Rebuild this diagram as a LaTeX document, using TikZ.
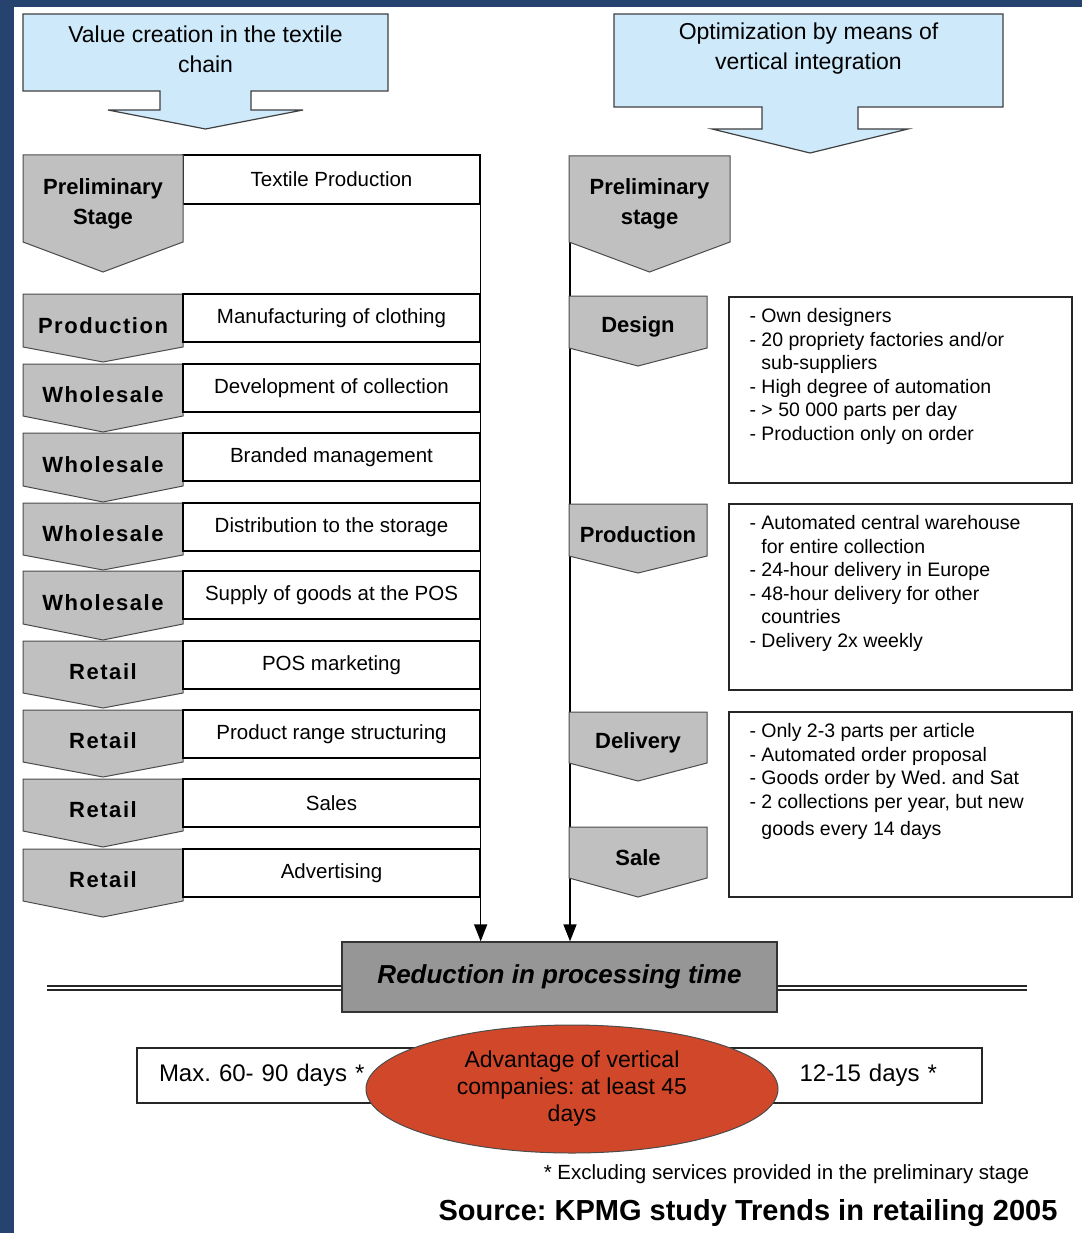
\documentclass[tikz,border=0pt]{standalone}
\usepackage{fontspec}
\setmainfont{Liberation Sans}
\newfontfamily\spacedsans{Liberation Sans}[LetterSpace=7]
\usetikzlibrary{arrows.meta,shapes.geometric,backgrounds}
\frenchspacing

\definecolor{denim}{RGB}{38,67,112}
\definecolor{headblue}{RGB}{205,233,250}
\definecolor{stagegray}{RGB}{192,192,192}
\definecolor{timegray}{RGB}{150,150,150}
\definecolor{advred}{RGB}{209,71,41}

\def\headfont{\fontsize{23}{30}\selectfont}
\def\stagefont{\fontsize{22}{30}\selectfont\bfseries}
\def\spacedfont{\spacedsans\bfseries}
\def\taskfont{\fontsize{20.5}{24}\selectfont}
\def\notefont{\fontsize{19.5}{23.5}\selectfont}
\def\timefont{\fontsize{26}{30}\selectfont\bfseries\itshape}
\def\daysfont{\fontsize{24}{28}\selectfont}
\def\advfont{\fontsize{23}{27}\selectfont}

\tikzset{
  headbox/.style={draw=black!75, line width=1.2pt, fill=headblue},
  headtext/.style={font=\headfont, align=center, inner sep=0pt},
  stagebox/.style={draw=black!70, line width=1pt, fill=stagegray},
  stagetext/.style={font=\stagefont, align=center, inner sep=0pt},
  taskbox/.style={draw=black, line width=1.3pt, fill=white, minimum width=297pt, minimum height=48pt, inner sep=0pt, font=\taskfont},
  notebox/.style={draw=black!85, line width=1.3pt, fill=white, minimum width=343pt, inner sep=0pt},
  notetext/.style={font=\notefont, align=left, inner sep=0pt, anchor=north west},
  flow/.style={line width=1.6pt, -{Triangle[width=13pt,length=17pt]}},
  timebox/.style={draw=black!80, line width=1.3pt, fill=timegray, minimum width=435pt, minimum height=70pt, inner sep=0pt, font=\timefont},
  dblline/.style={draw=black!85, double, double distance=2.5pt, line width=1.3pt},
  daysbox/.style={draw=black!85, line width=1.3pt, fill=white, minimum height=55pt, inner ysep=0pt, font=\daysfont},
  advoval/.style={ellipse, draw=black!70, line width=1pt, fill=advred, minimum width=412pt, minimum height=128pt, inner sep=0pt, align=center, font=\advfont}
}

% stage arrow: name, left, right, top, side bottom, tip, label
\newcommand{\stageshape}[7]{%
  \draw[stagebox] (#2,#4) -- (#3,#4) -- (#3,#5) -- ({(#2+#3)/2},#6) -- (#2,#5) -- cycle;
  \node[stagetext] (#1) at ({(#2+#3)/2},{(#4+#5)/2+5}) {#7};}

\begin{document}
\begin{tikzpicture}[x=1pt,y=1pt,yscale=-1]
\useasboundingbox (0,0) rectangle (1082,1233);
\begin{scope}[on background layer]
  \fill[denim] (0,0) rectangle (1082,1233);
  \fill[white] (14,7) rectangle (1082,1233);
\end{scope}

% headers
\draw[headbox] (23,14) -- (388,14) -- (388,91) -- (251,91) -- (251,110) -- (303,110) -- (205.5,129) -- (108,110) -- (160,110) -- (160,91) -- (23,91) -- cycle;
\node[headtext] (hdL) at (205.5,49) {Value creation in the textile\\chain};
\draw[headbox] (614,14) -- (1003,14) -- (1003,107) -- (858,107) -- (858,129) -- (908,129) -- (810,153) -- (712,129) -- (762,129) -- (762,107) -- (614,107) -- cycle;
\node[headtext] (hdR) at (808.5,49) {Optimization by means of\\vertical integration};

% textile chain
\node[taskbox, minimum height=49pt] (t0) at (331.5,179.5) {Textile Production};
\stageshape{s0}{23}{183}{155}{242}{272}{Preliminary\\Stage}
\stageshape{s1}{23}{183}{294}{347}{362}{\spacedfont Production}
\node[taskbox] (t1) at (331.5,318) {Manufacturing of clothing};
\stageshape{s2}{23}{183}{364}{416}{432}{\spacedfont Wholesale}
\node[taskbox] (t2) at (331.5,388) {Development of collection};
\stageshape{s3}{23}{183}{433}{486}{502}{\spacedfont Wholesale}
\node[taskbox] (t3) at (331.5,457) {Branded management};
\stageshape{s4}{23}{183}{503}{555}{570}{\spacedfont Wholesale}
\node[taskbox] (t4) at (331.5,527) {Distribution to the storage};
\stageshape{s5}{23}{183}{571}{624}{640}{\spacedfont Wholesale}
\node[taskbox] (t5) at (331.5,595) {Supply of goods at the POS};
\stageshape{s6}{23}{183}{641}{693}{708}{\spacedfont Retail}
\node[taskbox] (t6) at (331.5,665) {POS marketing};
\stageshape{s7}{23}{183}{710}{762}{777}{\spacedfont Retail}
\node[taskbox] (t7) at (331.5,734) {Product range structuring};
\stageshape{s8}{23}{183}{779}{831}{847}{\spacedfont Retail}
\node[taskbox] (t8) at (331.5,803) {Sales};
\stageshape{s9}{23}{183}{849}{901}{917}{\spacedfont Retail}
\node[taskbox] (t9) at (331.5,873) {Advertising};

% vertical integration
\stageshape{r0}{569}{730}{156}{242}{272}{Preliminary\\stage}
\stageshape{r1}{569}{707}{296}{348}{366}{Design}
\stageshape{r2}{569}{707}{504}{556}{573}{Production}
\stageshape{r3}{569}{707}{712}{763}{781}{Delivery}
\stageshape{r4}{569}{707}{827}{878}{897}{Sale}

\node[notebox, minimum height=186pt] (n1) at (900.5,390) {};
\node[notetext] (n1txt) at ([shift={(21,12)}]n1.north west) {- Own designers\\- 20 propriety factories and/or\\\phantom{- }sub-suppliers\\- High degree of automation\\- > 50 000 parts per day\\- Production only on order};
\node[notebox, minimum height=186pt] (n2) at (900.5,597) {};
\node[notetext] (n2txt) at ([shift={(21,12)}]n2.north west) {- Automated central warehouse\\\phantom{- }for entire collection\\- 24-hour delivery in Europe\\- 48-hour delivery for other\\\phantom{- }countries\\- Delivery 2x weekly};
\node[notebox, minimum height=185pt] (n3) at (900.5,804.5) {};
\node[notetext] (n3txt) at ([shift={(21,12)}]n3.north west) {- Only 2-3 parts per article\\- Automated order proposal\\- Goods order by Wed. and Sat\\- 2 collections per year, but new\\[4pt]\phantom{- }goods every 14 days};

% result
\node[timebox] (red) at (559.5,977) {\raisebox{5pt}{Reduction in processing time}};
\coordinate (dblL) at (47,988);
\coordinate (dblR) at (1027,988);
\draw[dblline] (dblL) -- (dblL -| red.west);
\draw[dblline] (dblR) -- (dblR -| red.east);

\begin{scope}[on background layer]
  \coordinate (rline) at (570,242);
  \draw[flow] (t0.north east) -- (t0.north east |- red.north);
  \draw[flow] (rline) -- (rline |- red.north);
\end{scope}

\node[daysbox, text width=439pt, inner xsep=22pt, align=left] (maxd) at (378.5,1075.5) {Max. 60- 90 days *};
\node[daysbox, text width=192pt, inner xsep=45pt, align=right] (vertd) at (841,1075.5) {12-15 days *};
\node[advoval] (adv) at (572,1089) {Advantage of vertical\\companies: at least 45\\days};

\node[font=\fontsize{20.5}{24}\selectfont] (foot) at (786.5,1174) {* Excluding services provided in the preliminary stage};
\node[font=\fontsize{29}{32}\selectfont\bfseries] (src) at (748,1213) {Source: KPMG study Trends in retailing 2005};
\end{tikzpicture}
\end{document}
